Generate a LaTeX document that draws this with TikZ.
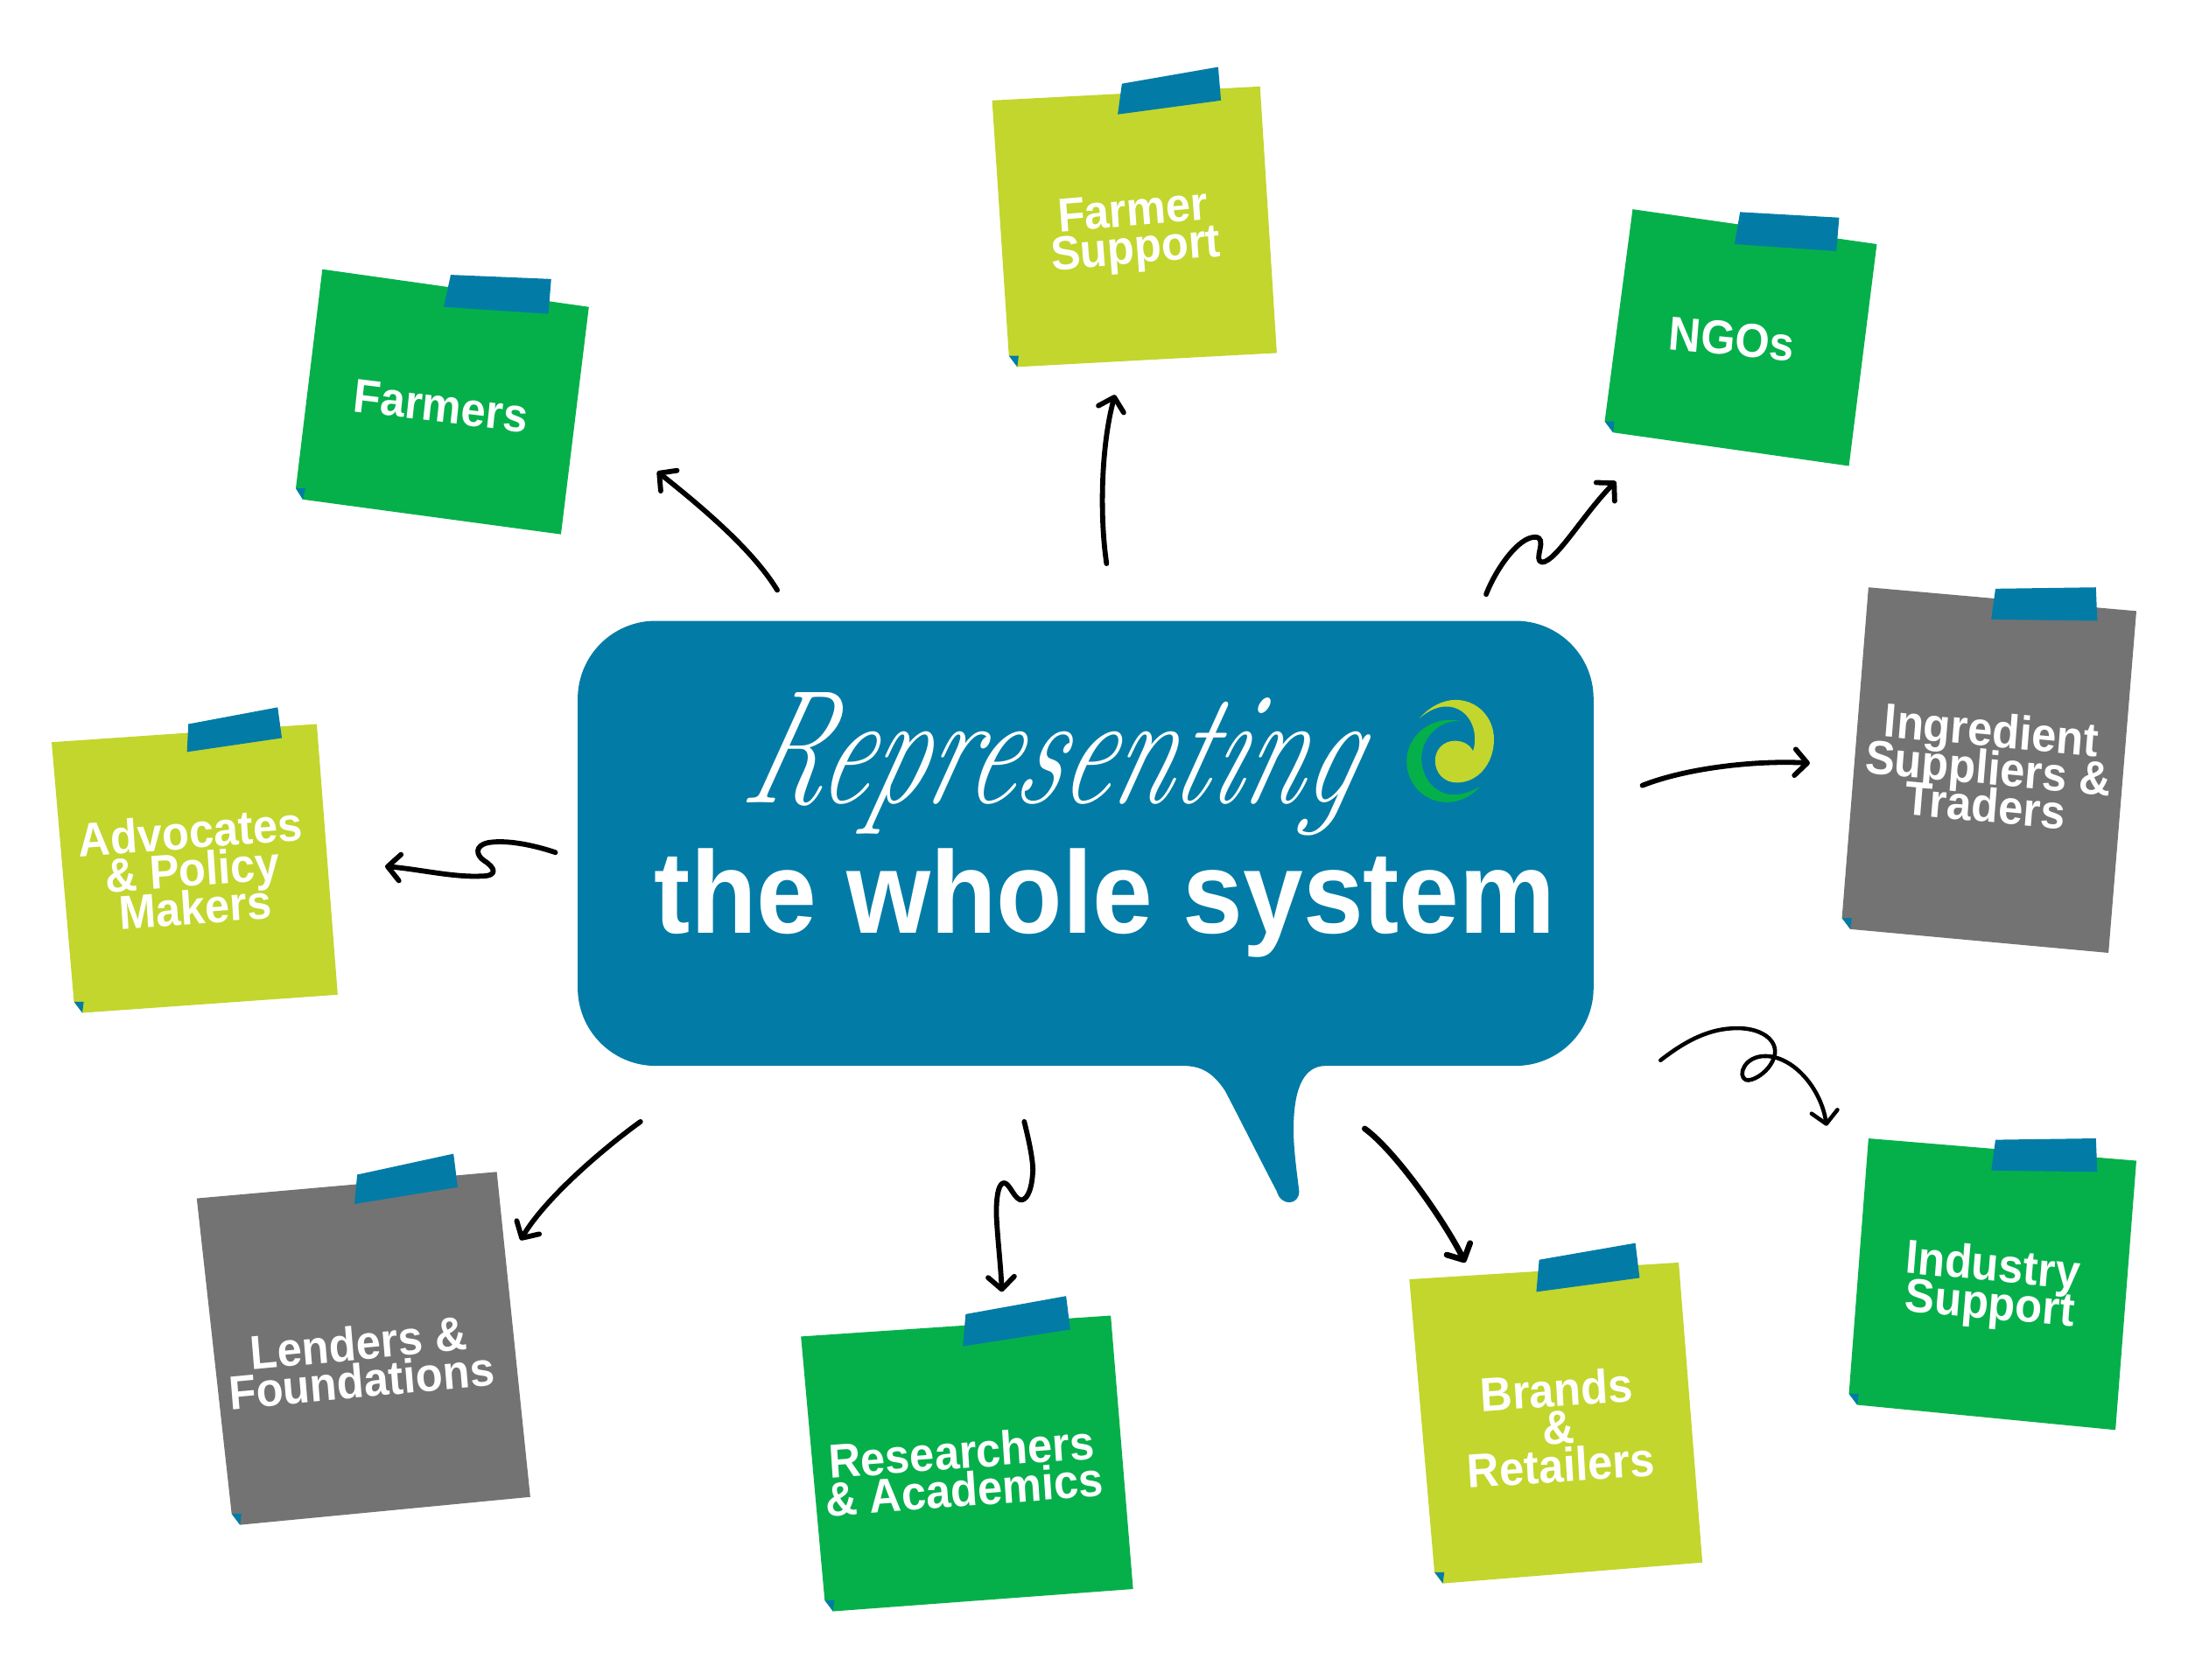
\documentclass[tikz,border=0pt]{standalone}
\usepackage{fontspec}
\usetikzlibrary{arrows.meta}
\newfontfamily\labelfont{Liberation Sans}
\definecolor{lime}{RGB}{194,214,45}
\definecolor{leaf}{RGB}{5,176,75}
\definecolor{slate}{RGB}{115,115,115}
\definecolor{tealblue}{RGB}{2,124,166}
\newcommand\notefont{\labelfont\bfseries\fontsize{15.5}{12.3}\selectfont\lineskiplimit -30pt\relax}
\tikzset{
  tapestrip/.style={fill=tealblue},
  foldtip/.style={fill=tealblue},
  notelabel/.style={text=white,align=center,inner sep=0pt,xscale=.93,font=\notefont},
  sketcharrow/.style={line width=1.65pt,line cap=round,line join=round,black,
    -{Straight Barb[length=4pt,width=8.5pt,round]}},
}
\begin{document}
\begin{tikzpicture}[x=0.015944cm,y=-0.015947cm]
\useasboundingbox (0,0) rectangle (1568,1204);
% hub
\fill[tealblue] (470,445) -- (1086,445) .. controls (1117,445) and (1142,470) .. (1142,501) -- (1142,708) .. controls (1142,739) and (1117,764) .. (1086,764) -- (950,764) .. controls (932,764) and (927,785) .. (927,810) .. controls (927,825) and (930,845) .. (931,854) .. controls (931,864) and (918,865) .. (915,854) .. controls (905,835) and (890,805) .. (878,782) .. controls (870,770) and (862,764) .. (848,764) -- (470,764) .. controls (439,764) and (414,739) .. (414,708) -- (414,501) .. controls (414,470) and (439,445) .. (470,445) -- cycle;
\node[text=white,inner sep=0pt,xslant=.28,xscale=1.04,yscale=1.5,font=\itshape\fontsize{35}{40}\selectfont] (hubscript) at (756,548) {Representing};
\node[text=white,inner sep=0pt,xscale=.925,font=\labelfont\bfseries\fontsize{38}{44}\selectfont] (hubtitle) at (792,647) {the whole system};
% logo
\begin{scope}[shift={(997.2,489.1)},x=0.003334cm,y=-0.003335cm]
\fill[lime] (97,122) .. controls (130,85) and (175,60) .. (220,60) .. controls (295,60) and (352,120) .. (352,195) .. controls (352,280) and (295,343) .. (225,343) .. controls (180,343) and (150,310) .. (150,268) .. controls (150,228) and (180,200) .. (218,200) .. controls (248,200) and (270,215) .. (280,235) .. controls (295,190) and (285,125) .. (235,95) .. controls (190,70) and (140,85) .. (97,122) -- cycle;
\fill[leaf] (240,133) .. controls (140,110) and (52,180) .. (52,270) .. controls (52,350) and (115,410) .. (190,410) .. controls (240,410) and (280,385) .. (305,355) .. controls (270,378) and (225,390) .. (190,382) .. controls (130,365) and (103,310) .. (103,260) .. controls (103,190) and (165,125) .. (240,133) -- cycle;
\end{scope}
% Farmers
\fill[leaf] (231,193) -- (422,220) -- (402,383) -- (217,358) -- (212,350) -- cycle;
\fill[foldtip] (212,350) -- (219,350) -- (217,358) -- cycle;
\fill[tapestrip] (323,197) -- (395,200) -- (393,225) -- (318,220) -- cycle;
\node[notelabel,rotate=-6.5] (farmers) at (316,291) {Farmers};
% Farmer Support
\fill[lime] (711,72) -- (903,62) -- (915,253) -- (729,263) -- (723,255) -- cycle;
\fill[foldtip] (723,255) -- (730,255) -- (729,263) -- cycle;
\fill[tapestrip] (804,60) -- (873,48) -- (875,72) -- (801,82) -- cycle;
\node[notelabel,rotate=4.5] (support) at (813,167) {Farmer\\Support};
% NGOs
\fill[leaf] (1170,150) -- (1345,175) -- (1325,334) -- (1156,310) -- (1150,302) -- cycle;
\fill[foldtip] (1150,302) -- (1157,302) -- (1156,310) -- cycle;
\fill[tapestrip] (1247,152) -- (1318,156) -- (1316,180) -- (1243,175) -- cycle;
\node[notelabel,rotate=-5] (ngos) at (1241,243) {NGOs};
% Ingredient
\fill[slate] (1339,421) -- (1531,438) -- (1511,683) -- (1326,666) -- (1320,658) -- cycle;
\fill[foldtip] (1320,658) -- (1327,658) -- (1326,666) -- cycle;
\fill[tapestrip] (1430,422) -- (1502,421) -- (1503,445) -- (1427,444) -- cycle;
\node[notelabel,rotate=-5] (ingredient) at (1425,550) {Ingredient\\Suppliers \&\\Traders};
% Industry
\fill[leaf] (1339,816) -- (1531,832) -- (1516,1025) -- (1331,1007) -- (1325,999) -- cycle;
\fill[foldtip] (1325,999) -- (1332,999) -- (1331,1007) -- cycle;
\fill[tapestrip] (1430,817) -- (1502,816) -- (1503,840) -- (1427,839) -- cycle;
\node[notelabel,rotate=-5] (industry) at (1427,923) {Industry\\Support};
% Brands
\fill[lime] (1010,917) -- (1203,905) -- (1220,1120) -- (1034,1135) -- (1028,1127) -- cycle;
\fill[foldtip] (1028,1127) -- (1035,1127) -- (1034,1135) -- cycle;
\fill[tapestrip] (1103,903) -- (1172,891) -- (1175,916) -- (1101,926) -- cycle;
\node[notelabel,rotate=3.5] (brands) at (1117,1023) {Brands\\\&\\Retailers};
% Researchers
\fill[leaf] (574,958) -- (796,943) -- (812,1139) -- (597,1155) -- (591,1147) -- cycle;
\fill[foldtip] (591,1147) -- (598,1147) -- (597,1155) -- cycle;
\fill[tapestrip] (692,942) -- (764,929) -- (767,953) -- (690,965) -- cycle;
\node[notelabel,rotate=4] (researchers) at (690,1054) {Researchers\\\& Academics};
% Lenders
\fill[slate] (141,859) -- (356,840) -- (380,1073) -- (172,1093) -- (166,1085) -- cycle;
\fill[foldtip] (166,1085) -- (173,1085) -- (172,1093) -- cycle;
\fill[tapestrip] (256,842) -- (325,827) -- (328,851) -- (254,863) -- cycle;
\node[notelabel,rotate=5] (lenders) at (258,976) {Lenders \&\\Foundations};
% Advocates
\fill[lime] (37,532) -- (227,519) -- (242,713) -- (59,726) -- (53,718) -- cycle;
\fill[foldtip] (53,718) -- (60,718) -- (59,726) -- cycle;
\fill[tapestrip] (135,519) -- (199,507) -- (202,529) -- (134,539) -- cycle;
\node[notelabel,rotate=4] (advocates) at (138,623) {Advocates\\\& Policy\\Makers};
% arrow ends
\coordinate (a1s) at (557,423); \coordinate (a1e) at (471,338);
\coordinate (a2s) at (793,404); \coordinate (a2e) at (799,283);
\coordinate (a3s) at (1065,426); \coordinate (a3e) at (1158,345);
\coordinate (a4s) at (1177,563); \coordinate (a4e) at (1297,547);
\coordinate (a5s) at (1190,760); \coordinate (a5e) at (1309,807);
\coordinate (a6s) at (978,809); \coordinate (a6e) at (1050,905);
\coordinate (a7s) at (734,804); \coordinate (a7e) at (718,926);
\coordinate (a8s) at (459,804); \coordinate (a8e) at (373,889);
\coordinate (a9s) at (398,611); \coordinate (a9e) at (276,621);
\draw[sketcharrow] (a1s) .. controls (540,395) and (505,365) .. (a1e);
\draw[sketcharrow] (a2s) .. controls (788,370) and (789,320) .. (a2e);
\draw[sketcharrow] (a3s) .. controls (1072,408) and (1088,385) .. (1100,385) .. controls (1110,385) and (1098,402) .. (1105,403) .. controls (1115,403) and (1135,368) .. (a3e);
\draw[sketcharrow] (a4s) .. controls (1210,550) and (1260,545) .. (a4e);
\draw[sketcharrow,line width=1.3pt] (a5s) .. controls (1208,746) and (1225,737) .. (1245,737) .. controls (1262,737) and (1273,745) .. (1272,755) .. controls (1270,768) and (1255,776) .. (1251,774) .. controls (1245,771) and (1250,757) .. (1265,757) .. controls (1285,757) and (1305,780) .. (a5e);
\draw[sketcharrow,line width=1.9pt] (a6s) .. controls (1000,825) and (1035,875) .. (a6e);
\draw[sketcharrow] (a7s) .. controls (738,820) and (741,835) .. (740,842) .. controls (739,855) and (735,861) .. (731,860) .. controls (726,858) and (723,847) .. (719,848) .. controls (715,849) and (714,860) .. (714,870) .. controls (715,890) and (717,905) .. (a7e);
\draw[sketcharrow] (a8s) .. controls (430,825) and (390,860) .. (a8e);
\draw[sketcharrow] (a9s) .. controls (380,605) and (362,602) .. (350,604) .. controls (340,606) and (341,613) .. (347,617) .. controls (355,622) and (357,628) .. (345,628) .. controls (325,629) and (300,623) .. (a9e);
\end{tikzpicture}
\end{document}
